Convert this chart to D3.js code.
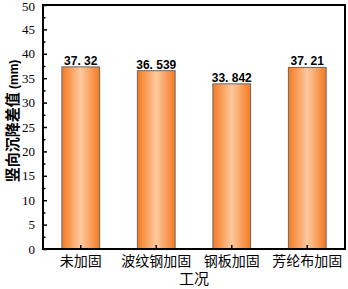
<!DOCTYPE html>
<html><head><meta charset="utf-8">
<script src="https://cdn.jsdelivr.net/npm/d3@7"></script>
<style>body{margin:0;background:#fff}svg{display:block}</style>
</head><body>
<script>
const categories = ["未加固", "波纹钢加固", "钢板加固", "芳纶布加固"];
const values = [37.32, 36.539, 33.842, 37.21];
const valueLabels = ["37. 32", "36. 539", "33. 842", "37. 21"];
const yTicks = [0, 5, 10, 15, 20, 25, 30, 35, 40, 45, 50];
const yMinorTicks = [2.5, 7.5, 12.5, 17.5, 22.5, 27.5, 32.5, 37.5, 42.5, 47.5];
const yTitle = "竖向沉降差值";
const yUnit = " (mm)";
const xTitle = "工况";

const W = 348, H = 289;
const m = {left: 43, right: 3, top: 5, bottom: 40};
const svg = d3.select("body").append("svg").attr("width", W).attr("height", H);
const defs = svg.append("defs");
const grad = defs.append("linearGradient").attr("id", "g").attr("x1", "0").attr("x2", "1").attr("y1", "0").attr("y2", "0");
[[0, "#f47a1f"], [0.5, "#fec9a0"], [1, "#f47a1f"]].forEach(([o, c]) =>
  grad.append("stop").attr("offset", o).attr("stop-color", c));

const x = d3.scaleBand().domain(categories).range([m.left, W - m.right]).paddingInner(0.5).paddingOuter(0.25);
const y = d3.scaleLinear().domain([0, 50]).range([H - m.bottom, m.top]);

// bars
svg.selectAll("rect.bar").data(values).join("rect").attr("class", "bar")
  .attr("x", (d, i) => x(categories[i])).attr("width", x.bandwidth())
  .attr("y", d => y(d)).attr("height", d => y(0) - y(d))
  .attr("fill", "url(#g)").attr("stroke", "#666").attr("stroke-width", 1);

// value labels
svg.selectAll("text.val").data(values).join("text").attr("class", "val")
  .attr("x", (d, i) => x(categories[i]) + x.bandwidth() / 2)
  .attr("y", d => y(d) - 2)
  .attr("text-anchor", "middle")
  .attr("font-family", "Liberation Sans, Arial, sans-serif").attr("font-weight", "bold").attr("font-size", 12)
  .text((d, i) => valueLabels[i]);

// frame
svg.append("rect").attr("x", m.left).attr("y", m.top)
  .attr("width", W - m.right - m.left).attr("height", H - m.bottom - m.top)
  .attr("fill", "none").attr("stroke", "#000").attr("stroke-width", 2);

// y axis
const yAxis = svg.append("g").attr("transform", `translate(${m.left},0)`)
  .call(d3.axisLeft(y).tickValues(yTicks).tickSize(-4).tickPadding(8));
yAxis.select(".domain").remove();
yAxis.selectAll("line").attr("stroke-width", 1.5);
yAxis.selectAll("text").attr("font-family", "Liberation Serif, Times New Roman, serif").attr("font-size", 13).attr("fill", "#000")
  .attr("dy", (d) => d === 50 ? "0.45em" : "0.32em");
svg.append("g").attr("transform", `translate(${m.left},0)`)
  .call(d3.axisLeft(y).tickValues(yMinorTicks).tickSize(-2.5).tickFormat(""))
  .call(g => g.select(".domain").remove())
  .selectAll("line").attr("stroke-width", 1.5);

// x axis
const xAxis = svg.append("g").attr("transform", `translate(0,${H - m.bottom})`)
  .call(d3.axisBottom(x).tickSize(-4).tickPadding(7));
xAxis.select(".domain").remove();
xAxis.selectAll("line").attr("stroke-width", 1.5);
xAxis.selectAll("text").attr("font-family", "Noto Sans CJK SC, sans-serif").attr("font-size", 14).attr("fill", "#000");

// titles
svg.append("text").attr("x", (m.left + W - m.right) / 2).attr("y", 284)
  .attr("text-anchor", "middle").attr("font-family", "Noto Sans CJK SC, sans-serif").attr("font-size", 15)
  .text(xTitle);
const yt = svg.append("text").attr("transform", `translate(18,121) rotate(-90)`)
  .attr("text-anchor", "middle").attr("font-family", "Noto Sans CJK SC, sans-serif").attr("font-weight", "bold").attr("font-size", 15);
yt.append("tspan").text(yTitle);
yt.append("tspan").attr("font-size", 12).attr("font-family", "Liberation Sans, Arial, sans-serif").text(yUnit);
</script>
</body></html>
